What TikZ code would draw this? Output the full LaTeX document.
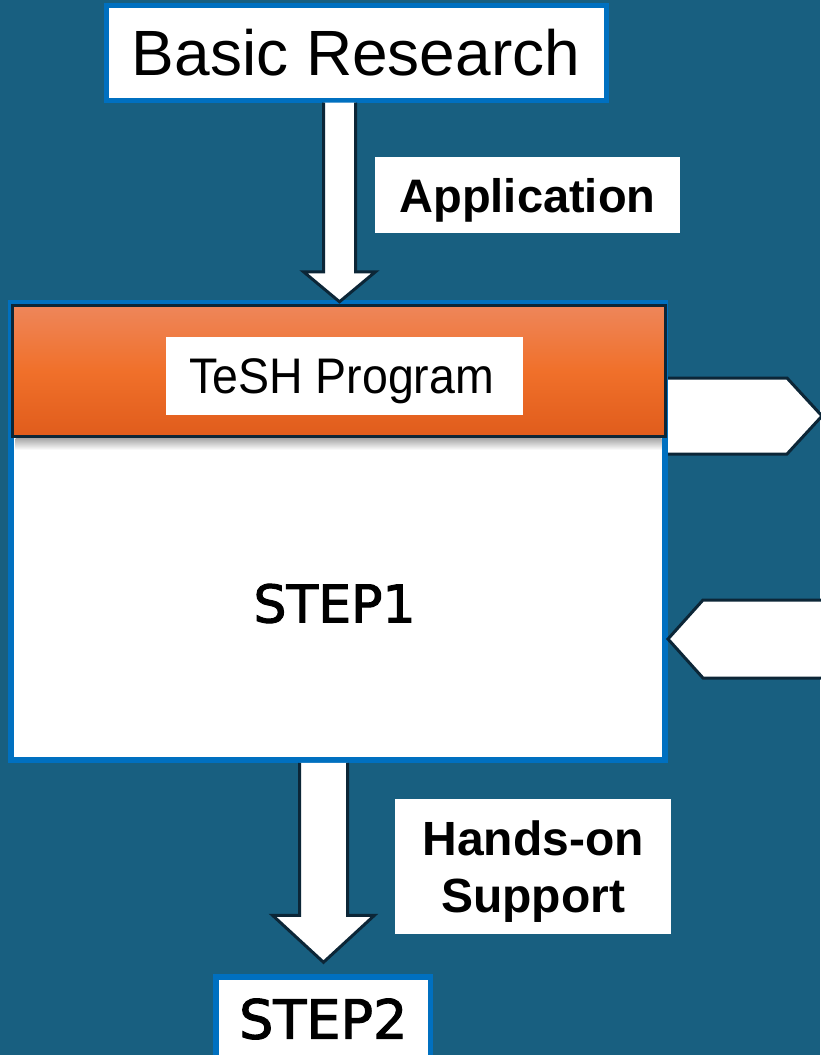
\documentclass[tikz,border=0pt]{standalone}
\usepackage{fontspec}
\setmainfont{Liberation Sans}
\newfontfamily\stepfont[FakeBold=2]{DejaVu Sans}
\newfontfamily\narrowfont[FakeStretch=0.93]{Liberation Sans}
\usepackage{xcolor}
\usepackage{tikz}
\usetikzlibrary{calc}

\definecolor{bgblue}{RGB}{24,95,128}
\definecolor{edgeblue}{RGB}{0,112,192}
\definecolor{darkline}{RGB}{12,38,55}
\definecolor{orTop}{RGB}{238,134,90}
\definecolor{orMid}{RGB}{240,112,42}
\definecolor{orBot}{RGB}{224,92,28}

% white block arrow pointing down: start, tip, half shaft, half head, head length
\newcommand{\downblock}[5]{%
  \draw[barrow] ($(#1)+(#3,0)$) -- ($(#2)+(#3,-#5)$) -- ($(#2)+(#4,-#5)$) -- (#2)
    -- ($(#2)+(-#4,-#5)$) -- ($(#2)+(-#3,-#5)$) -- ($(#1)+(-#3,0)$);}

\begin{document}
\begin{tikzpicture}[x=1pt, y=-1pt,
    box/.style={draw=edgeblue, fill=white, inner sep=0pt},
    lbl/.style={fill=white, inner sep=0pt, text depth=0pt},
    barrow/.style={draw=darkline, fill=white, line width=3pt, line join=miter}]

        \fill[bgblue] (0,0) rectangle (820,1055);
        \useasboundingbox (0,0) rectangle (820,1055);

        \node[box, line width=5pt, minimum width=500, minimum height=95, font=\fontsize{64}{70}\selectfont] (basic) at (356,52.5) {Basic Research\hspace{9pt}};
        \node[lbl, minimum width=305, minimum height=76, font=\fontsize{47}{54}\selectfont\bfseries] (app) at (527.5,195) {Application};

        \node[box, line width=6pt, minimum width=654, minimum height=457] (step1) at (338,531.25) {};
        \node[draw=darkline, line width=3pt, top color=orTop, bottom color=orBot, middle color=orMid, minimum width=653, minimum height=131, inner sep=0pt] (head) at (338.5,371) {};
        \shade[top color=black!35, bottom color=white] ($(head.south west)+(5,0)$) rectangle ($(head.south east)+(-5,12)$);
        \node[lbl, minimum width=357, minimum height=78, font=\narrowfont\fontsize{50}{56}\selectfont] (tesh) at (344.5,376) {\hspace{-6pt}TeSH Program};
        \node[font=\stepfont\fontsize{52}{60}\selectfont, inner sep=0pt] (step1txt) at (334.5,603.5) {STEP1};

        % side arrows
        \coordinate (outR) at (822,416);
        \coordinate (inR) at (835,639);
        \draw[barrow] (step1.east |- outR) ++(0,-38) -- ++(119,0) -- (outR) -- ++(-35,38) -- ++(-119,0);
        \draw[barrow] (inR) ++(0,-39) -- ++(-132,0) -- (step1.east |- inR) -- ++(35,39) -- ++(132,0);

        \node[lbl, minimum width=276, minimum height=135, align=center, font=\fontsize{48}{57}\selectfont\bfseries] (hands) at (533,866.5) {Hands-on\\Support};
        \node[box, line width=5.5pt, minimum width=214.5, minimum height=84, font=\stepfont\fontsize{54}{60}\selectfont] (step2) at (323.25,1019) {STEP2};

        % down arrows
        \coordinate (appX) at (339.5,0);
        \coordinate (hosX) at (323.5,0);
        \coordinate (appTop) at (basic.south -| appX);
        \coordinate (appTip) at ($(step1.north -| appX)+(0,2)$);
        \coordinate (hosTop) at (step1.south -| hosX);
        \coordinate (hosTip) at ($(step2.north -| hosX)+(0,-12)$);
        \downblock{appTop}{appTip}{16}{36}{30}
        \downblock{hosTop}{hosTip}{24}{51}{47}

\end{tikzpicture}
\end{document}
